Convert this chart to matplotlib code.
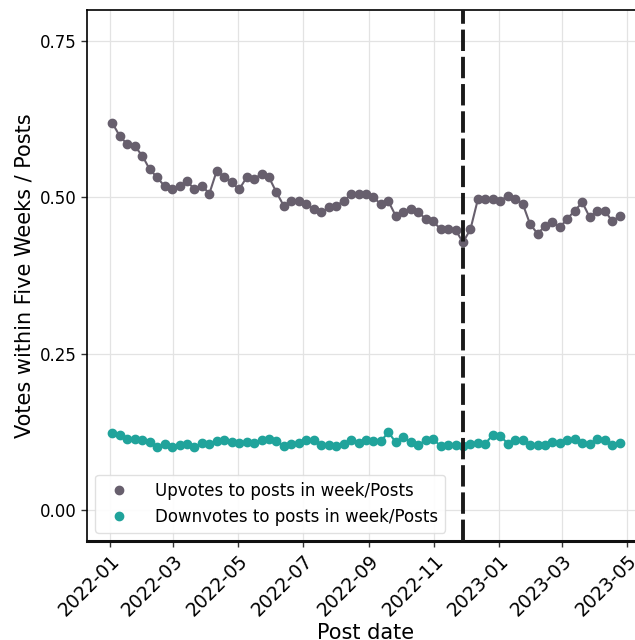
import matplotlib
matplotlib.use("Agg")
import matplotlib.pyplot as plt
import matplotlib.dates as mdates
from matplotlib.lines import Line2D
import numpy as np
import pandas as pd

# weekly post dates
weeks = pd.date_range("2022-01-03", periods=69, freq="7D")

upvotes = [
    0.619, 0.598, 0.585, 0.582, 0.567, 0.545, 0.532, 0.518, 0.513, 0.518,
    0.526, 0.513, 0.519, 0.506, 0.543, 0.532, 0.524, 0.513, 0.532, 0.529,
    0.538, 0.532, 0.508, 0.486, 0.495, 0.495, 0.490, 0.481, 0.476, 0.484,
    0.487, 0.494, 0.505, 0.506, 0.506, 0.500, 0.489, 0.494, 0.470, 0.476,
    0.482, 0.476, 0.466, 0.462, 0.449, 0.449, 0.448, 0.428, 0.449, 0.497,
    0.498, 0.498, 0.495, 0.502, 0.498, 0.490, 0.457, 0.442, 0.454, 0.460,
    0.452, 0.466, 0.479, 0.492, 0.468, 0.479, 0.479, 0.462, 0.470,
]

downvotes = [
    0.123, 0.119, 0.114, 0.114, 0.112, 0.108, 0.100, 0.105, 0.101, 0.103,
    0.105, 0.100, 0.107, 0.106, 0.110, 0.112, 0.108, 0.107, 0.109, 0.107,
    0.111, 0.114, 0.110, 0.102, 0.106, 0.107, 0.112, 0.111, 0.104, 0.103,
    0.102, 0.106, 0.111, 0.107, 0.111, 0.110, 0.110, 0.124, 0.108, 0.116,
    0.108, 0.103, 0.112, 0.113, 0.102, 0.104, 0.104, 0.102, 0.105, 0.107,
    0.106, 0.120, 0.118, 0.106, 0.111, 0.111, 0.103, 0.104, 0.104, 0.108,
    0.107, 0.112, 0.113, 0.107, 0.105, 0.113, 0.112, 0.104, 0.107,
]

event_date = pd.Timestamp("2022-11-28")

up_color = "#675f6d"
down_color = "#20a39b"

fig = plt.figure(figsize=(6.35, 6.4), dpi=100)
ax = fig.add_axes([87 / 635, 99 / 640, 558 / 635, 531 / 640])

ax.plot(weeks, upvotes, "-o", color=up_color, lw=1.5, ms=6, zorder=3)
ax.plot(weeks, downvotes, "-o", color=down_color, lw=1.5, ms=6, zorder=3)
ax.axvline(event_date, color="#1a1a1a", lw=2.8, dashes=(5.5, 1.5), zorder=4)

span = weeks[-1] - weeks[0]
ax.set_xlim(weeks[0] - span * 0.05, weeks[-1] + span * 0.05)
ax.set_ylim(-0.05, 0.80)
ax.set_yticks([0.0, 0.25, 0.50, 0.75])
ax.yaxis.set_major_formatter(matplotlib.ticker.FormatStrFormatter("%.2f"))
ax.xaxis.set_major_locator(mdates.MonthLocator(bymonth=[1, 3, 5, 7, 9, 11]))
ax.xaxis.set_major_formatter(mdates.DateFormatter("%Y-%m"))

ax.grid(True, color="#e3e3e3", lw=0.9)
ax.set_axisbelow(True)
ax.tick_params(axis="y", labelsize=12, length=4, width=1, color="#333333")
ax.tick_params(axis="x", labelsize=13.5, length=4, width=1, color="#333333")
plt.setp(ax.get_xticklabels(), rotation=45, ha="right", rotation_mode="anchor")
for s in ["left", "top"]:
    ax.spines[s].set_color("black")
    ax.spines[s].set_linewidth(1.2)
ax.spines["bottom"].set_linewidth(2.2)
ax.spines["bottom"].set_color("#111111")
ax.spines["right"].set_visible(False)

ax.set_xlabel("Post date", fontsize=15, labelpad=2)
ax.set_ylabel("Votes within Five Weeks / Posts", fontsize=15)

handles = [
    Line2D([], [], marker="o", ls="none", color=up_color, ms=6),
    Line2D([], [], marker="o", ls="none", color=down_color, ms=6),
]
ax.legend(handles, ["Upvotes to posts in week/Posts", "Downvotes to posts in week/Posts"],
          loc="lower left", fontsize=12, frameon=True, framealpha=0.9,
          edgecolor="#dddddd", borderaxespad=0.5, handletextpad=1.2)

fig.savefig("out.png", dpi=100)
